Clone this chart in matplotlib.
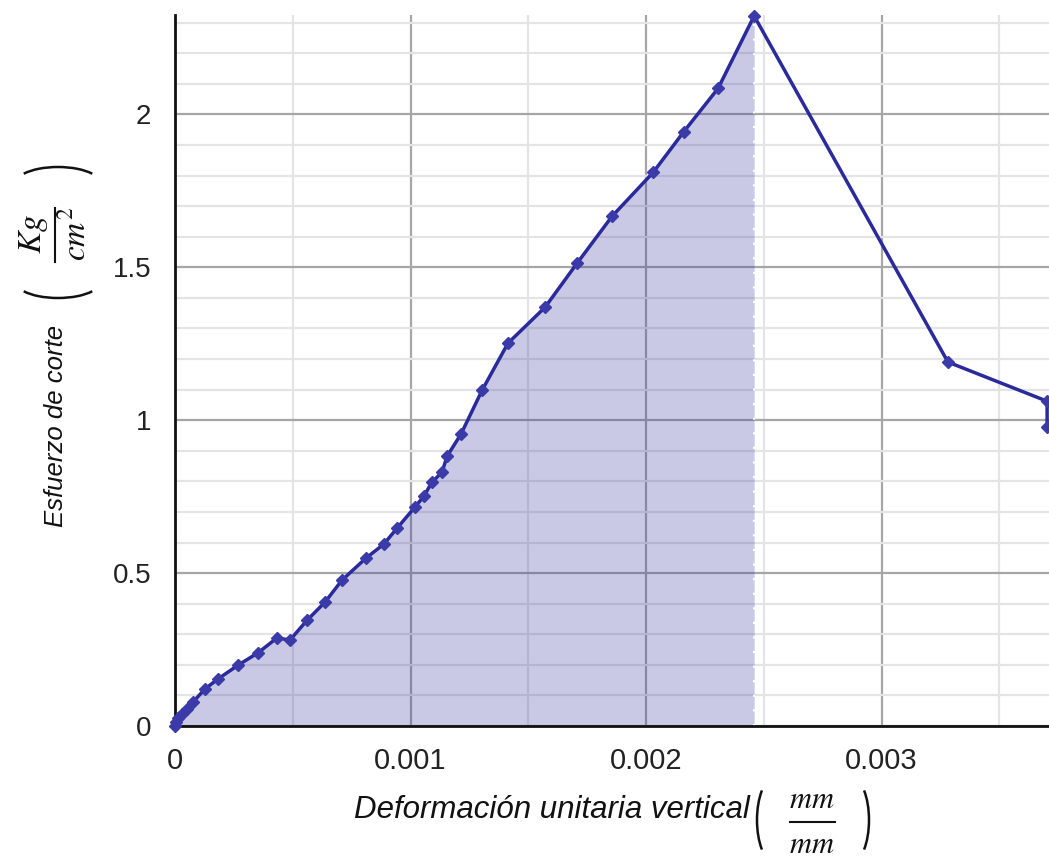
import matplotlib
matplotlib.use('Agg')
import matplotlib.pyplot as plt
from matplotlib.ticker import MultipleLocator, FuncFormatter
from matplotlib.patches import Arc
from matplotlib.lines import Line2D

plt.rcParams['font.family'] = ['Liberation Sans', 'DejaVu Sans']
plt.rcParams['mathtext.fontset'] = 'stix'

# deformacion unitaria vertical (mm/mm) y esfuerzo de corte (Kg/cm2)
deformacion = [0, 0.000004, 0.000013, 0.00003, 0.000051, 0.000076, 0.000127, 0.000183,
               0.000268, 0.000352, 0.000433, 0.000488, 0.000561, 0.000637, 0.000709,
               0.000811, 0.000887, 0.000943, 0.001019, 0.001057, 0.001091, 0.001134,
               0.001155, 0.001214, 0.001304, 0.001414, 0.001571, 0.001707, 0.001856,
               0.00203, 0.002161, 0.002306, 0.002459, 0.003282, 0.003703, 0.003703]
esfuerzo = [0, 0.013, 0.026, 0.039, 0.056, 0.078, 0.121, 0.154,
            0.199, 0.239, 0.288, 0.281, 0.346, 0.405, 0.477,
            0.549, 0.595, 0.647, 0.716, 0.752, 0.797, 0.83,
            0.882, 0.954, 1.098, 1.252, 1.369, 1.513, 1.667,
            1.81, 1.944, 2.085, 2.322, 1.19, 1.062, 0.977]

pico = esfuerzo.index(max(esfuerzo))

W, H = 1049, 863
fig = plt.figure(figsize=(W / 100, H / 100), dpi=100)
ax = fig.add_axes([175 / W, 137 / H, 874 / W, 711 / H])


def fp(x, y):
    # pixel (desde arriba a la izquierda) -> coordenadas de figura
    return x / W, 1 - y / H


ax.set_xlim(0, 0.003711)
ax.set_ylim(0, 2.325)

ax.xaxis.set_major_locator(MultipleLocator(0.001))
ax.xaxis.set_minor_locator(MultipleLocator(0.0005))
ax.yaxis.set_major_locator(MultipleLocator(0.5))
ax.yaxis.set_minor_locator(MultipleLocator(0.1))
ax.grid(which='major', color='#a6a6a6', linewidth=1.6, zorder=0)
ax.grid(which='minor', color='#e4e4e4', linewidth=1.6, zorder=0)
ax.set_axisbelow(True)

fmt = FuncFormatter(lambda v, p: '%g' % round(v, 6))
ax.xaxis.set_major_formatter(fmt)
ax.yaxis.set_major_formatter(fmt)
ax.tick_params(which='both', length=0, colors='#222222')
ax.tick_params(axis='x', labelsize=21, pad=15)
ax.tick_params(axis='y', labelsize=20, pad=17)

ax.fill_between(deformacion[:pico + 1], esfuerzo[:pico + 1], 0,
                color='#2b2b9c', alpha=0.25, linewidth=0, zorder=2)
ax.plot([deformacion[pico], deformacion[pico]], [0, esfuerzo[pico]],
        color='white', linestyle=(0, (1, 6)), linewidth=1.5, zorder=2)
ax.plot(deformacion, esfuerzo, color='#2a2a9c', linewidth=2.5, marker='D',
        markersize=6.5, markerfacecolor='#3a3aa8', markeredgecolor='#3a3aa8',
        zorder=3, clip_on=False)

for s in ['top', 'right']:
    ax.spines[s].set_visible(False)
for s in ['left', 'bottom']:
    ax.spines[s].set_color('#111111')
    ax.spines[s].set_linewidth(2)

tc = '#111111'
tf = fig.transFigure

# etiqueta eje x
fig.text(*fp(750, 818), 'Deformación unitaria vertical', fontsize=22.5,
         fontstyle='italic', ha='right', va='baseline', color=tc)
fig.text(*fp(812, 800), '$mm$', fontsize=22, ha='center', va='center', color=tc)
fig.text(*fp(812, 845), '$mm$', fontsize=22, ha='center', va='center', color=tc)
fig.add_artist(Line2D([790 / W, 835 / W], [1 - 822 / H, 1 - 822 / H],
                      transform=tf, color=tc, linewidth=1.5))
fig.add_artist(Arc(fp(775, 820), 36 / W, 86 / H, theta1=110, theta2=250,
                   transform=tf, color=tc, linewidth=1.8))
fig.add_artist(Arc(fp(851, 820), 36 / W, 86 / H, theta1=-70, theta2=70,
                   transform=tf, color=tc, linewidth=1.8))

# etiqueta eje y
fig.text(*fp(63, 527), 'Esfuerzo de corte', fontsize=18.5, fontstyle='italic',
         rotation=90, rotation_mode='anchor', ha='left', va='baseline', color=tc)
fig.text(*fp(34, 234), '$Kg$', fontsize=24, rotation=90, ha='center',
         va='center', color=tc)
fig.text(*fp(76, 234), '$cm^2$', fontsize=24, rotation=90, ha='center',
         va='center', color=tc)
fig.add_artist(Line2D([55 / W, 55 / W], [1 - 208 / H, 1 - 262 / H],
                      transform=tf, color=tc, linewidth=1.5))
fig.add_artist(Arc(fp(58, 281), 86 / W, 34 / H, theta1=200, theta2=340,
                   transform=tf, color=tc, linewidth=1.8))
fig.add_artist(Arc(fp(58, 184), 86 / W, 34 / H, theta1=20, theta2=160,
                   transform=tf, color=tc, linewidth=1.8))

fig.savefig('out.png', dpi=100)
